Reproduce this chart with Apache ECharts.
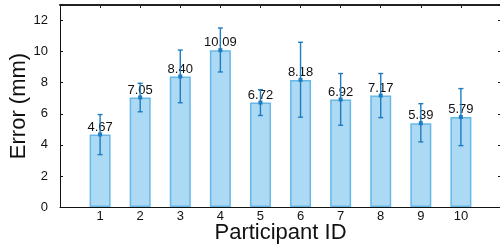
<!DOCTYPE html>
<html>
<head>
<meta charset="utf-8">
<script src="https://cdn.jsdelivr.net/npm/echarts@6/dist/echarts.min.js"></script>
<style>
html,body{margin:0;padding:0;background:#fff;}
#chart{width:500px;height:249px;}
</style>
</head>
<body>
<div id="chart"></div>
<script>
// Data
var participants = [1, 2, 3, 4, 5, 6, 7, 8, 9, 10];
var meanError = [4.67, 7.05, 8.40, 10.09, 6.72, 8.18, 6.92, 7.17, 5.39, 5.79];
var errLow = [3.37, 6.13, 6.71, 8.69, 5.89, 5.78, 5.26, 5.75, 4.19, 3.95];
var errHigh = [5.95, 7.96, 10.10, 11.52, 7.55, 10.60, 8.59, 8.59, 6.65, 7.62];
var yTicks = [0, 2, 4, 6, 8, 10, 12];

var font = '"Liberation Sans", Arial, Helvetica, sans-serif';
var chart = echarts.init(document.getElementById('chart'), null, {renderer: 'canvas'});

var barData = participants.map(function (p, i) { return [p, meanError[i]]; });
var errData = participants.map(function (p, i) { return [p, errLow[i], errHigh[i], meanError[i]]; });

chart.setOption({
  animation: false,
  backgroundColor: '#ffffff',
  grid: {left: 60, top: 5, width: 441, height: 202, containLabel: false, outerBoundsMode: 'none'},
  xAxis: [{
    type: 'value', min: 0, max: 11, interval: 1,
    position: 'bottom',
    name: 'Participant ID', nameLocation: 'middle', nameGap: 15, nameMoveOverlap: false,
    nameTextStyle: {fontFamily: font, fontSize: 22, color: '#111', verticalAlign: 'top'},
    axisLine: {show: true, onZero: false, lineStyle: {color: '#111', width: 1}},
    axisTick: {show: false},
    splitLine: {show: false},
    axisLabel: {
      fontFamily: font, fontSize: 13, color: '#111', margin: 3,
      formatter: function (v) { return participants.indexOf(v) >= 0 ? String(v) : ''; }
    }
  }, {
    type: 'value', min: 0, max: 11, interval: 1,
    position: 'top',
    axisLine: {show: true, onZero: false, lineStyle: {color: '#222', width: 2}},
    axisTick: {show: true, inside: true, length: 3, lineStyle: {color: '#222', width: 1}},
    axisLabel: {show: false},
    splitLine: {show: false}
  }],
  yAxis: [{
    type: 'value', min: 0, max: 13, interval: 2,
    position: 'left',
    name: 'Error (mm)', nameLocation: 'middle', nameGap: 30, nameMoveOverlap: false,
    nameTextStyle: {fontFamily: font, fontSize: 22, color: '#111'},
    axisLine: {show: true, onZero: false, lineStyle: {color: '#111', width: 1}},
    axisTick: {show: true, inside: true, length: 3, lineStyle: {color: '#111'}},
    splitLine: {show: false},
    axisLabel: {
      fontFamily: font, fontSize: 13, color: '#111', margin: 12,
      formatter: function (v) { return yTicks.indexOf(v) >= 0 ? String(v) : ''; }
    }
  }, {
    type: 'value', min: 0, max: 13, interval: 2,
    position: 'right',
    axisLine: {show: true, onZero: false, lineStyle: {color: '#111', width: 1}},
    axisTick: {show: true, inside: true, length: 3, lineStyle: {color: '#111'}},
    axisLabel: {show: false},
    splitLine: {show: false}
  }],
  series: [{
    type: 'bar',
    xAxisIndex: 0, yAxisIndex: 0,
    data: barData,
    barWidth: 21,
    itemStyle: {color: '#acd9f3', borderColor: '#66b8e8', borderWidth: 1.5},
    label: {
      show: true, position: 'top', distance: 1,
      fontFamily: font, fontSize: 13, color: '#111',
      formatter: function (p) { return p.value[1].toFixed(2); }
    },
    z: 2
  }, {
    type: 'custom',
    xAxisIndex: 0, yAxisIndex: 0,
    data: errData,
    z: 5,
    renderItem: function (params, api) {
      var x = api.value(0);
      var lo = api.coord([x, api.value(1)]);
      var hi = api.coord([x, api.value(2)]);
      var mid = api.coord([x, api.value(3)]);
      var c = '#1f7cbf';
      var half = 2.5;
      var style = {stroke: c, lineWidth: 1.4, fill: null};
      return {
        type: 'group',
        children: [
          {type: 'line', shape: {x1: lo[0], y1: lo[1], x2: hi[0], y2: hi[1]}, style: style},
          {type: 'line', shape: {x1: hi[0] - half, y1: hi[1], x2: hi[0] + half, y2: hi[1]}, style: style},
          {type: 'line', shape: {x1: lo[0] - half, y1: lo[1], x2: lo[0] + half, y2: lo[1]}, style: style},
          {type: 'rect', shape: {x: mid[0] - 2, y: mid[1] - 2, width: 4, height: 4}, style: {fill: c}}
        ]
      };
    }
  }]
});
</script>
</body>
</html>
